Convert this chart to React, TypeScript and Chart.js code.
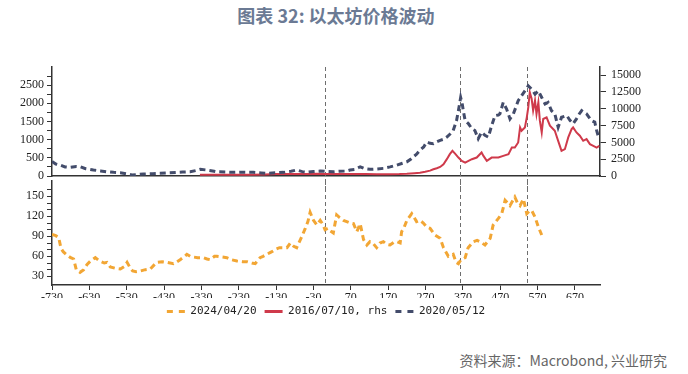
import React, { useEffect, useRef } from 'react';
import { Chart, registerables } from 'chart.js';

Chart.register(...registerables);

const TITLE = '图表 32: 以太坊价格波动';
const SOURCE = '资料来源：Macrobond, 兴业研究';
const SERIES_NAMES = ['2024/04/20', '2016/07/10, rhs', '2020/05/12'];

const X_MIN = -730;
const X_MAX = 737;
const X_TICKS = [-730, -630, -530, -430, -330, -230, -130, -30, 70, 170, 270, 370, 470, 570, 670];
const EVENT_DAYS = [0, 362, 542];

const TOP_LEFT_TICKS = [0, 250, 500, 750, 1000, 1250, 1500, 1750, 2000, 2250, 2500, 2750];
const TOP_LEFT_LABEL_STEP = 500;
const TOP_RIGHT_TICKS = [0, 2500, 5000, 7500, 10000, 12500, 15000];
const BOTTOM_TICKS = [30, 40, 50, 60, 70, 80, 90, 100, 110, 120, 130, 140, 150, 160];
const BOTTOM_LABEL_STEP = 30;

// 2024/04/20 (bottom panel)
const S2024_DAYS = [
  -730, -720, -712, -706, -700, -690, -680, -672, -665, -655,
  -645, -636, -627, -614, -605, -598, -590, -583, -574, -560,
  -547, -536, -529, -520, -514, -505, -494, -480, -467, -455,
  -449, -435, -422, -405, -395, -387, -375, -369, -360, -352,
  -340, -325, -315, -307, -295, -289, -275, -262, -250, -235,
  -220, -208, -195, -186, -173, -165, -155, -145, -138, -130,
  -121, -110, -101, -92, -83, -75, -61, -52, -45, -39,
  -30, -21, -12, -5, 1, 9, 15, 23, 32, 40,
  50, 59, 68, 77, 86, 95, 104, 113, 121, 130,
  139, 148, 157, 166, 175, 185, 193, 202, 206, 213,
  220, 233, 240, 246, 255, 264, 273, 282, 295, 309,
  318, 331, 344, 352, 358, 365, 376, 384, 398, 408,
  416, 429, 443, 451, 465, 474, 483, 490, 496, 509,
  516, 523, 532, 541, 548, 554, 563, 572, 581,
];
const S2024_VALUES = [
  93, 91, 88, 72, 67, 62, 58, 56, 40, 36,
  40, 48, 53, 58, 54, 52, 50, 51, 44, 42,
  41, 45, 51, 42, 38, 37, 38, 40, 41, 48,
  51, 52, 51, 49, 52, 55, 60, 63, 60, 59,
  58, 58, 56, 55, 60, 60, 59, 58, 55, 53,
  52, 52, 50, 49, 58, 60, 63, 66, 68, 71,
  73, 73, 73, 80, 75, 73, 90, 102, 112, 126,
  114, 107, 114, 108, 100, 102, 98, 95, 122, 118,
  114, 112, 110, 109, 97, 109, 85, 77, 82, 79,
  73, 80, 82, 78, 77, 81, 82, 80, 97, 104,
  114, 124, 118, 112, 114, 110, 104, 102, 92, 87,
  73, 60, 63, 51, 49, 55, 58, 73, 82, 84,
  82, 77, 87, 107, 117, 124, 144, 140, 136, 149,
  140, 136, 146, 124, 128, 129, 119, 104, 92,
];

// 2016/07/10 (top panel, right axis)
const S2016_DAYS = [
  -334, -300, -250, -200, -160, -130, -110, -80, -50, -20,
  0, 20, 50, 80, 110, 140, 170, 200, 220, 240,
  255, 269, 282, 291, 300, 309, 318, 327, 335, 342,
  349, 358, 367, 376, 385, 394, 407, 420, 425, 434,
  447, 465, 478, 492, 501, 509, 518, 523, 527, 536,
  541, 545, 549, 554, 558, 563, 567, 572, 576, 581,
  585, 594, 603, 616, 625, 634, 643, 652, 661, 665,
  674, 683, 692, 701, 710, 719, 728, 735,
];
const S2016_VALUES = [
  200, 190, 190, 200, 230, 280, 300, 280, 290, 330,
  300, 290, 280, 290, 280, 270, 270, 280, 330, 420,
  500, 640, 800, 1000, 1150, 1350, 1750, 2500, 3250, 3740,
  3330, 2740, 2240, 1990, 2240, 2500, 2740, 3490, 2990, 2240,
  2740, 2740, 2990, 3240, 4230, 4230, 4980, 7220, 6730, 7220,
  8720, 10210, 12450, 11470, 9720, 11210, 9220, 10960, 8220, 6470,
  8470, 8720, 7470, 6730, 5230, 3740, 3990, 5730, 6980, 7220,
  6470, 5980, 5230, 5480, 4740, 4480, 4230, 4480,
];

// 2020/05/12 (top panel, left axis)
const S2020_DAYS = [
  -730, -720, -708, -695, -681, -665, -654, -640, -619, -600,
  -583, -565, -547, -530, -516, -500, -485, -460, -440, -420,
  -396, -380, -360, -345, -333, -315, -300, -289, -265, -244,
  -220, -191, -170, -155, -130, -110, -90, -75, -60, -48,
  -30, -12, 5, 23, 40, 59, 68, 80, 95, 108,
  121, 140, 157, 175, 193, 208, 220, 230, 237, 246,
  255, 265, 273, 282, 291, 300, 309, 318, 327, 335,
  344, 353, 358, 364, 368, 371, 376, 385, 394, 402,
  411, 420, 429, 438, 447, 456, 465, 469, 478, 487,
  496, 505, 512, 518, 527, 536, 545, 554, 563, 572,
  581, 590, 598, 607, 616, 625, 634, 648, 657, 665,
  674, 681, 688, 695, 701, 714, 723, 728, 733,
];
const S2020_VALUES = [
  400, 330, 300, 250, 237, 260, 254, 200, 164, 140,
  117, 100, 90, 60, 27, 40, 55, 65, 74, 85,
  100, 110, 117, 150, 183, 164, 140, 117, 110, 100,
  105, 100, 85, 74, 90, 100, 130, 164, 120, 100,
  125, 136, 125, 117, 130, 136, 164, 180, 254, 200,
  183, 195, 210, 250, 300, 350, 390, 460, 526, 600,
  709, 800, 935, 900, 891, 940, 981, 1010, 1071, 1150,
  1254, 1527, 1799, 2162, 2000, 1799, 1527, 1437, 1300, 1254,
  1027, 1208, 1118, 1071, 1390, 1663, 1680, 1709, 2025, 1845,
  1573, 1709, 1900, 2072, 2208, 2344, 2481, 2391, 2254, 2344,
  2162, 1982, 2025, 1799, 1709, 1344, 1617, 1663, 1527, 1437,
  1573, 1700, 1799, 1750, 1709, 1527, 1482, 1254, 1071,
];

const ORANGE = '#F2A634';
const RED = '#CF3A4B';
const BLUE = '#434C6B';
const AXIS = '#333333';
const TICK_FONT = { family: '"Liberation Serif", "Times New Roman", serif', size: 12 };
const LEGEND_FONT = { family: '"DejaVu Sans Mono", "Liberation Mono", monospace', size: 11 };

const zip = (xs: number[], ys: number[]) => xs.map((x, i) => ({ x, y: ys[i] }));

const eventLines = (extendBottom: number) => ({
  id: 'eventLines',
  beforeDatasetsDraw(chart: any) {
    const { ctx, chartArea, scales } = chart;
    ctx.save();
    ctx.strokeStyle = '#6e6e6e';
    ctx.lineWidth = 1;
    ctx.setLineDash([4, 3]);
    EVENT_DAYS.forEach((d) => {
      const x = Math.round(scales.x.getPixelForValue(d)) + 0.5;
      ctx.beginPath();
      ctx.moveTo(x, chartArea.top);
      ctx.lineTo(x, chartArea.bottom + extendBottom);
      ctx.stroke();
    });
    ctx.restore();
  },
});

const yTickGrid = { display: true, drawOnChartArea: false, drawTicks: true, tickLength: 5, color: AXIS, lineWidth: 1 };
const axisBorder = { display: true, color: AXIS, width: 1.5 };

export default function App() {
  const topRef = useRef<HTMLCanvasElement>(null);
  const botRef = useRef<HTMLCanvasElement>(null);

  useEffect(() => {
    document.body.style.margin = '0';
    const top = new Chart(topRef.current as HTMLCanvasElement, {
      type: 'line',
      data: {
        datasets: [
          {
            label: SERIES_NAMES[2],
            data: zip(S2020_DAYS, S2020_VALUES),
            yAxisID: 'yL',
            borderColor: BLUE,
            borderWidth: 3,
            borderDash: [6, 4],
            pointRadius: 0,
            tension: 0,
          },
          {
            label: SERIES_NAMES[1],
            data: zip(S2016_DAYS, S2016_VALUES),
            yAxisID: 'yR',
            borderColor: RED,
            borderWidth: 2,
            pointRadius: 0,
            tension: 0,
          },
        ],
      },
      options: {
        animation: false,
        responsive: false,
        maintainAspectRatio: false,
        layout: { padding: { top: 13, bottom: 13, left: 0, right: 0 } },
        plugins: { legend: { display: false }, tooltip: { enabled: false } },
        scales: {
          x: {
            type: 'linear',
            min: X_MIN,
            max: X_MAX,
            ticks: { display: false },
            grid: { display: false, drawTicks: false },
            border: axisBorder,
            afterFit: (s: any) => { s.height = 0; },
          },
          yL: {
            type: 'linear',
            position: 'left',
            min: 0,
            max: 3000,
            afterBuildTicks: (s: any) => { s.ticks = TOP_LEFT_TICKS.map((v) => ({ value: v })); },
            ticks: {
              autoSkip: false,
              font: TICK_FONT,
              color: '#222',
              padding: 3,
              callback: (v: any) => (Number(v) % TOP_LEFT_LABEL_STEP === 0 ? String(v) : ''),
            },
            grid: yTickGrid,
            border: axisBorder,
            afterFit: (s: any) => { s.width = 52; },
          },
          yR: {
            type: 'linear',
            position: 'right',
            min: 0,
            max: 16200,
            afterBuildTicks: (s: any) => { s.ticks = TOP_RIGHT_TICKS.map((v) => ({ value: v })); },
            ticks: { autoSkip: false, font: TICK_FONT, color: '#222', padding: 5, callback: (v: any) => String(v) },
            grid: { ...yTickGrid, tickLength: 6 },
            border: axisBorder,
            afterFit: (s: any) => { s.width = 88; },
          },
        },
      },
      plugins: [eventLines(13)],
    } as any);

    const bottom = new Chart(botRef.current as HTMLCanvasElement, {
      type: 'line',
      data: {
        datasets: [
          {
            label: SERIES_NAMES[0],
            data: zip(S2024_DAYS, S2024_VALUES),
            borderColor: ORANGE,
            borderWidth: 3,
            borderDash: [6, 4],
            pointRadius: 0,
            tension: 0,
          },
        ],
      },
      options: {
        animation: false,
        responsive: false,
        maintainAspectRatio: false,
        layout: { padding: { top: 11, bottom: 0, left: 0, right: 88 } },
        plugins: {
          tooltip: { enabled: false },
          legend: {
            display: true,
            position: 'bottom',
            fullSize: false,
            labels: {
              font: LEGEND_FONT,
              color: '#222',
              usePointStyle: true,
              pointStyleWidth: 18,
              padding: 8,
              generateLabels: () => [
                { text: SERIES_NAMES[0], strokeStyle: ORANGE, fillStyle: ORANGE, lineWidth: 3, lineDash: [6, 6], pointStyle: 'line', fontColor: '#222' },
                { text: SERIES_NAMES[1], strokeStyle: RED, fillStyle: RED, lineWidth: 3, lineDash: [], pointStyle: 'line', fontColor: '#222' },
                { text: SERIES_NAMES[2], strokeStyle: BLUE, fillStyle: BLUE, lineWidth: 3, lineDash: [6, 6], pointStyle: 'line', fontColor: '#222' },
              ],
            },
          },
        },
        scales: {
          x: {
            type: 'linear',
            min: X_MIN,
            max: X_MAX,
            afterBuildTicks: (s: any) => { s.ticks = X_TICKS.map((v) => ({ value: v })); },
            ticks: { autoSkip: false, maxRotation: 0, font: TICK_FONT, color: '#222', padding: 1, callback: (v: any) => String(v) },
            grid: { display: true, drawOnChartArea: false, drawTicks: true, tickLength: 5, color: AXIS },
            border: axisBorder,
            afterFit: (s: any) => { s.height = 13; },
          },
          y: {
            type: 'linear',
            position: 'left',
            min: 17,
            max: 173,
            afterBuildTicks: (s: any) => { s.ticks = BOTTOM_TICKS.map((v) => ({ value: v })); },
            ticks: {
              autoSkip: false,
              font: TICK_FONT,
              color: '#222',
              padding: 3,
              callback: (v: any) => (Number(v) % BOTTOM_LABEL_STEP === 0 ? String(v) : ''),
            },
            grid: yTickGrid,
            border: axisBorder,
            afterFit: (s: any) => { s.width = 52; },
          },
        },
      },
      plugins: [eventLines(0)],
    } as any);

    return () => {
      top.destroy();
      bottom.destroy();
    };
  }, []);

  return (
    <div style={{ position: 'relative', width: 688, height: 374, background: '#fff', overflow: 'hidden' }}>
      <div
        style={{
          position: 'absolute', left: 0, top: 5, width: 672, textAlign: 'center',
          fontFamily: '"Noto Sans CJK SC", "Noto Sans", sans-serif', fontWeight: 700, fontSize: 18,
          lineHeight: '20px', color: '#6b7a94',
        }}
      >
        {TITLE}
      </div>
      <canvas ref={topRef} width={688} height={135} style={{ position: 'absolute', left: 0, top: 54, width: 688, height: 135 }} />
      <canvas ref={botRef} width={688} height={157} style={{ position: 'absolute', left: 0, top: 170, width: 688, height: 157 }} />
      <div
        style={{
          position: 'absolute', right: 21, top: 352, whiteSpace: 'nowrap',
          fontFamily: '"Noto Sans CJK SC", "Noto Sans", sans-serif', fontSize: 14, lineHeight: '16px', color: '#666',
        }}
      >
        {SOURCE}
      </div>
    </div>
  );
}
